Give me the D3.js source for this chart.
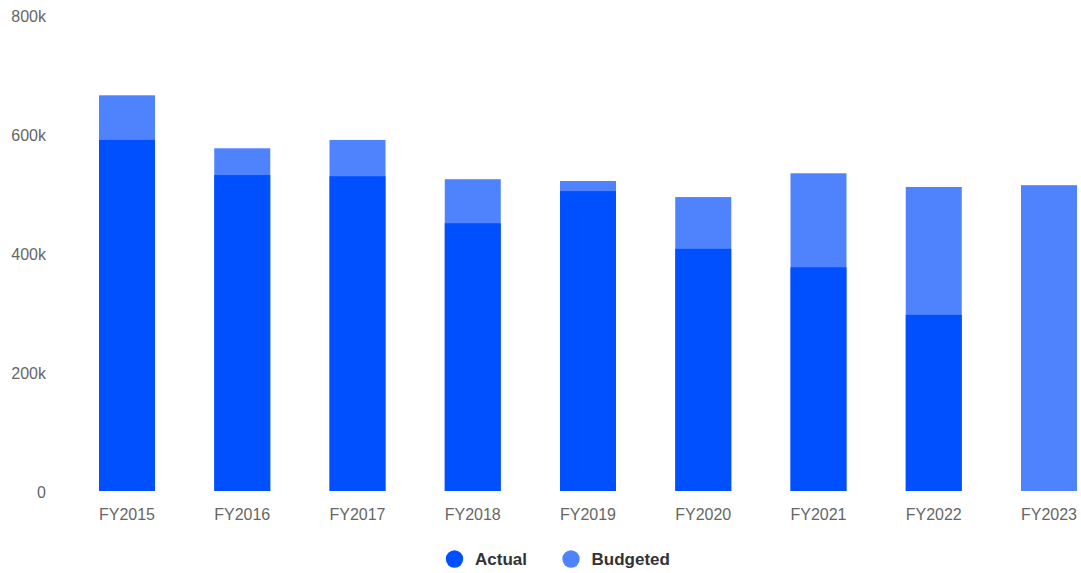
<!DOCTYPE html>
<html><head><meta charset="utf-8">
<script src="https://cdn.jsdelivr.net/npm/d3@7"></script>
<style>body{margin:0;background:#fff;font-family:"Liberation Sans",Arial,sans-serif}</style>
</head><body><svg id="c" width="1081" height="573"></svg>
<script>
const categories = ["FY2015","FY2016","FY2017","FY2018","FY2019","FY2020","FY2021","FY2022","FY2023"];
const actual   = [590000, 531000, 529000, 450000, 504000, 407000, 376000, 296000, null];
const budgeted = [665000, 576000, 590000, 524000, 521000, 494000, 534000, 511000, 514000];
const yTicks = [0, 200000, 400000, 600000, 800000];
const seriesNames = ["Actual", "Budgeted"];
const colors = {Actual: "#0050ff", Budgeted: "#4f83fe"};

const svg = d3.select("#c");
const x = d3.scaleBand().domain(categories).range([99, 1077]).paddingInner(0.514).paddingOuter(0);
const y = d3.scaleLinear().domain([0, 800000]).range([491, 15]);

// y axis labels
svg.append("g").selectAll("text").data(yTicks).join("text")
  .attr("x", 46).attr("y", d => y(d) + 1).attr("dy", "0.35em")
  .attr("text-anchor", "end").attr("fill", "#666").attr("font-size", 16)
  .text(d => d === 0 ? "0" : d3.format("~s")(d));

// budgeted bars (full height)
svg.append("g").selectAll("rect").data(categories).join("rect")
  .attr("x", d => x(d)).attr("width", x.bandwidth())
  .attr("y", (d, i) => y(budgeted[i])).attr("height", (d, i) => y(0) - y(budgeted[i]))
  .attr("fill", colors.Budgeted);

// actual bars overlaid
svg.append("g").selectAll("rect").data(categories.filter((d, i) => actual[i] != null)).join("rect")
  .attr("x", d => x(d)).attr("width", x.bandwidth())
  .attr("y", d => y(actual[categories.indexOf(d)]))
  .attr("height", d => y(0) - y(actual[categories.indexOf(d)]))
  .attr("fill", colors.Actual);

// x axis labels
svg.append("g").selectAll("text").data(categories).join("text")
  .attr("x", d => x(d) + x.bandwidth() / 2).attr("y", 514).attr("dy", "0.35em")
  .attr("text-anchor", "middle").attr("fill", "#666").attr("font-size", 16)
  .text(d => d);

// legend
const lg = svg.append("g");
const lx = [454.5, 571];
const tx = [475, 591.5];
seriesNames.forEach((s, i) => {
  lg.append("circle").attr("cx", lx[i]).attr("cy", 559).attr("r", 8.7).attr("fill", colors[s]);
  lg.append("text").attr("x", tx[i]).attr("y", 559).attr("dy", "0.35em")
    .attr("fill", "#333").attr("font-size", 17).attr("font-weight", "bold").text(s);
});
</script></body></html>
